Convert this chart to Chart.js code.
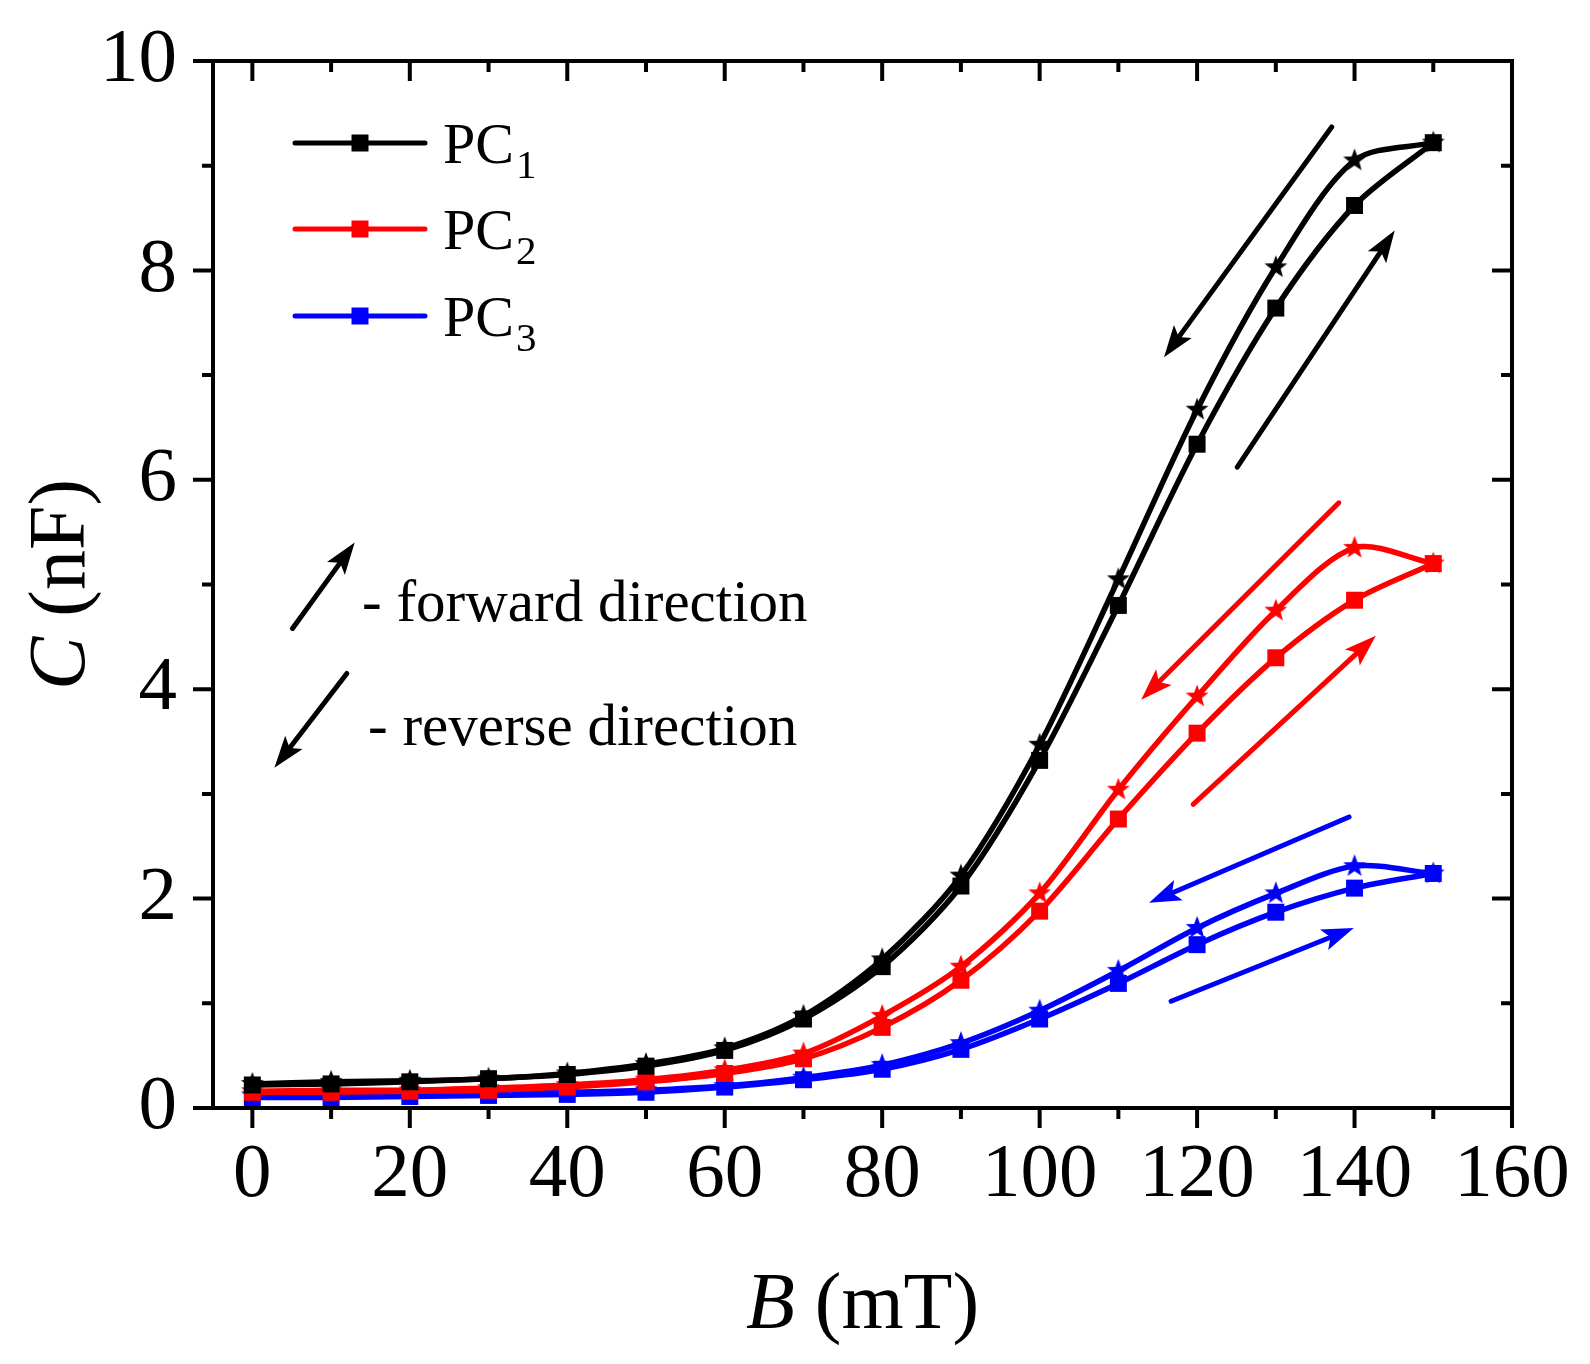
<!DOCTYPE html>
<html>
<head>
<meta charset="utf-8">
<script src="https://cdn.jsdelivr.net/npm/chart.js@4.4.0/dist/chart.umd.min.js"></script>
<style>
  html, body { margin: 0; padding: 0; background: #fff; }
  canvas { display: block; }
</style>
</head>
<body>
<canvas id="chart" width="1590" height="1364"></canvas>
<script>
'use strict';
// magnetic field B (mT)
var fieldB = [0, 10, 20, 30, 40, 50, 60, 70, 80, 90, 100, 110, 120, 130, 140, 150];

// capacitance C (nF), forward = squares, reverse = stars
var pc1Forward = [0.22, 0.23, 0.25, 0.28, 0.32, 0.40, 0.55, 0.85, 1.35, 2.12, 3.32, 4.80, 6.34, 7.64, 8.62, 9.22];
var pc1Reverse = [0.23, 0.25, 0.26, 0.28, 0.33, 0.42, 0.57, 0.88, 1.42, 2.22, 3.47, 5.05, 6.67, 8.03, 9.05, 9.22];
var pc2Forward = [0.15, 0.15, 0.16, 0.17, 0.20, 0.25, 0.33, 0.47, 0.77, 1.22, 1.88, 2.76, 3.58, 4.30, 4.85, 5.20];
var pc2Reverse = [0.16, 0.17, 0.17, 0.19, 0.22, 0.27, 0.36, 0.52, 0.88, 1.35, 2.05, 3.04, 3.93, 4.75, 5.35, 5.20];
var pc3Forward = [0.10, 0.10, 0.11, 0.12, 0.13, 0.15, 0.20, 0.27, 0.37, 0.56, 0.85, 1.19, 1.56, 1.87, 2.10, 2.24];
var pc3Reverse = [0.12, 0.12, 0.13, 0.14, 0.15, 0.17, 0.21, 0.29, 0.41, 0.62, 0.93, 1.31, 1.72, 2.05, 2.31, 2.24];

var xTicks = [0, 20, 40, 60, 80, 100, 120, 140, 160];
var yTicks = [0, 2, 4, 6, 8, 10];
var seriesNames = ['1', '2', '3'];   // PC subscripts

var BLACK = '#000000', RED = '#ff0000', BLUE = '#0000ff';
var FONT = "'Liberation Serif', 'Times New Roman', serif";

// direction arrows, in data units (B, C)
var arrows = [
    { from: [137.1, 9.37], to: [115.8, 7.17], color: BLACK },
    { from: [125.1, 6.12], to: [145.1, 8.38], color: BLACK },
    { from: [138.0, 5.78], to: [112.9, 3.90], color: RED },
    { from: [119.5, 2.90], to: [142.7, 4.51], color: RED },
    { from: [139.3, 2.78], to: [113.9, 1.96], color: BLUE },
    { from: [116.7, 1.02], to: [139.9, 1.72], color: BLUE },
    { from: [5.1, 4.58], to: [13.0, 5.40], color: BLACK },
    { from: [12.0, 4.15], to: [2.8, 3.25], color: BLACK }
];

function makeStar(color) {
    var c = document.createElement('canvas'), r = 12, ri = 5;
    c.width = c.height = 2 * r + 2;
    var g = c.getContext('2d');
    g.fillStyle = color;
    g.beginPath();
    for (var i = 0; i < 10; i++) {
        var a = -Math.PI / 2 + i * Math.PI / 5, rr = i % 2 ? ri : r;
        g.lineTo(r + 1 + rr * Math.cos(a), r + 1 + rr * Math.sin(a));
    }
    g.closePath();
    g.fill();
    return c;
}

function pts(vals) {
    return fieldB.map(function (b, i) { return { x: b, y: vals[i] }; });
}

function series(vals, color, style) {
    return {
        data: pts(vals),
        borderColor: color,
        backgroundColor: color,
        borderWidth: 5.5,
        pointStyle: style,
        pointRadius: 12,
        pointBorderWidth: 0,
        tension: 0.3,
        fill: false
    };
}

function drawArrow(ctx, x0, y0, x1, y1, color) {
    var ang = Math.atan2(y1 - y0, x1 - x0), head = 32, half = 11;
    var c = Math.cos(ang), s = Math.sin(ang);
    var bx = x1 - head * c, by = y1 - head * s;
    ctx.strokeStyle = color;
    ctx.fillStyle = color;
    ctx.lineWidth = 5;
    ctx.lineCap = 'round';
    ctx.beginPath();
    ctx.moveTo(x0, y0);
    ctx.lineTo(x1 - head * 0.8 * c, y1 - head * 0.8 * s);
    ctx.stroke();
    ctx.beginPath();
    ctx.moveTo(x1, y1);
    ctx.lineTo(bx + half * s, by - half * c);
    ctx.lineTo(x1 - head * 0.78 * c, y1 - head * 0.78 * s);
    ctx.lineTo(bx - half * s, by + half * c);
    ctx.closePath();
    ctx.fill();
}

var decorations = {
    id: 'decorations',
    afterDatasetsDraw: function (chart) {
        var ctx = chart.ctx, x = chart.scales.x, y = chart.scales.y;
        ctx.save();
        arrows.forEach(function (a) {
            drawArrow(ctx, x.getPixelForValue(a.from[0]), y.getPixelForValue(a.from[1]),
                x.getPixelForValue(a.to[0]), y.getPixelForValue(a.to[1]), a.color);
        });

        // legend
        var colors = [BLACK, RED, BLUE], rows = [143, 229, 316];
        rows.forEach(function (ly, i) {
            ctx.strokeStyle = colors[i];
            ctx.fillStyle = colors[i];
            ctx.lineWidth = 5;
            ctx.lineCap = 'round';
            ctx.beginPath();
            ctx.moveTo(295, ly);
            ctx.lineTo(425, ly);
            ctx.stroke();
            ctx.fillRect(360 - 8.5, ly - 8.5, 17, 17);
            ctx.fillStyle = BLACK;
            ctx.textBaseline = 'alphabetic';
            ctx.textAlign = 'left';
            ctx.font = '58px ' + FONT;
            ctx.fillText('PC', 443, ly + 20);
            var w = ctx.measureText('PC').width;
            ctx.font = '41px ' + FONT;
            ctx.fillText(seriesNames[i], 443 + w + 2, ly + 35);
        });

        ctx.font = '59px ' + FONT;
        ctx.fillText('- forward direction', 362, 621);
        ctx.fillText('- reverse direction', 368, 745);
        ctx.restore();
    },
    afterDraw: function (chart) {
        var ctx = chart.ctx, a = chart.chartArea, x = chart.scales.x, y = chart.scales.y;
        ctx.save();
        ctx.strokeStyle = BLACK;
        ctx.lineWidth = 4;
        ctx.lineCap = 'butt';
        ctx.strokeRect(a.left, a.top, a.right - a.left, a.bottom - a.top);
        ctx.beginPath();
        for (var v = xTicks[0]; v <= xTicks[xTicks.length - 1]; v += 10) {
            var px = x.getPixelForValue(v), len = v % 20 === 0 ? 20 : 11;
            ctx.moveTo(px, a.bottom); ctx.lineTo(px, a.bottom + len);
            ctx.moveTo(px, a.top); ctx.lineTo(px, a.top + len);
        }
        for (var w = yTicks[0]; w <= yTicks[yTicks.length - 1]; w += 1) {
            var py = y.getPixelForValue(w), l2 = w % 2 === 0 ? 20 : 11;
            ctx.moveTo(a.left - l2, py); ctx.lineTo(a.left, py);
            ctx.moveTo(a.right - l2, py); ctx.lineTo(a.right, py);
        }
        ctx.stroke();

        // axis titles with italic symbols
        ctx.fillStyle = BLACK;
        ctx.textBaseline = 'alphabetic';
        ctx.textAlign = 'left';
        function mixed(parts, cx, cy, rot) {
            var total = 0;
            parts.forEach(function (p) { ctx.font = p[1] + ' 80px ' + FONT; p.w = ctx.measureText(p[0]).width; total += p.w; });
            ctx.save();
            ctx.translate(cx, cy);
            ctx.rotate(rot);
            var pos = -total / 2;
            parts.forEach(function (p) { ctx.font = p[1] + ' 80px ' + FONT; ctx.fillText(p[0], pos, 0); pos += p.w; });
            ctx.restore();
        }
        mixed([['B', 'italic'], [' (mT)', 'normal']], (a.left + a.right) / 2, 1328, 0);
        mixed([['C', 'italic'], [' (nF)', 'normal']], 84, (a.top + a.bottom) / 2, -Math.PI / 2);
        ctx.restore();
    }
};

var starBlack = makeStar(BLACK), starRed = makeStar(RED), starBlue = makeStar(BLUE);

var chart = new Chart(document.getElementById('chart').getContext('2d'), {
    type: 'line',
    data: {
        datasets: [
            series(pc1Forward, BLACK, 'rect'),
            series(pc1Reverse, BLACK, starBlack),
            series(pc2Forward, RED, 'rect'),
            series(pc2Reverse, RED, starRed),
            series(pc3Forward, BLUE, 'rect'),
            series(pc3Reverse, BLUE, starBlue)
        ]
    },
    options: {
        responsive: false,
        animation: false,
        devicePixelRatio: 1,
        layout: { padding: { left: 0, top: 61, right: 78, bottom: 0 } },
        plugins: { legend: { display: false }, tooltip: { enabled: false } },
        scales: {
            x: {
                type: 'linear',
                min: -5,
                max: 160,
                afterFit: function (s) { s.height = 256; s.paddingLeft = 0; s.paddingRight = 0; },
                afterBuildTicks: function (s) { s.ticks = xTicks.map(function (v) { return { value: v }; }); },
                grid: { display: false, drawTicks: false },
                border: { display: false },
                ticks: { color: BLACK, padding: 22, maxRotation: 0, font: { family: FONT, size: 77 } }
            },
            y: {
                min: 0,
                max: 10,
                afterFit: function (s) { s.width = 213; s.paddingTop = 0; s.paddingBottom = 0; },
                afterBuildTicks: function (s) { s.ticks = yTicks.map(function (v) { return { value: v }; }); },
                grid: { display: false, drawTicks: false },
                border: { display: false },
                ticks: { color: BLACK, padding: 36, font: { family: FONT, size: 77 } }
            }
        }
    },
    plugins: [decorations]
});
</script>
</body>
</html>
